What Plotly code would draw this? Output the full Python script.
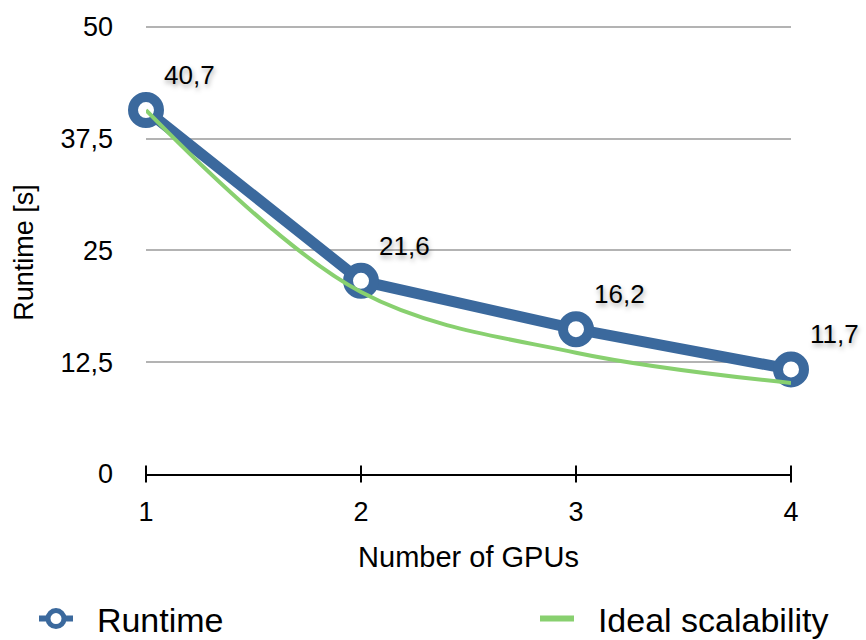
import plotly.graph_objects as go

# Benchmark data
gpus = [1, 2, 3, 4]
runtime = [40.7, 21.6, 16.2, 11.7]
ideal = [40.7, 20.35, 13.57, 10.18]
y_ticks = [0, 12.5, 25, 37.5, 50]
y_tick_labels = ["0", "12,5", "25", "37,5", "50"]

BLUE = "#3B699D"
GREEN = "#88D06F"
FONT = "Liberation Sans, Arial, sans-serif"
NBSP = "\u00a0"

fig = go.Figure()

# Measured runtime
fig.add_trace(go.Scatter(
    x=gpus, y=runtime, mode="lines+markers", name="Runtime",
    line=dict(color=BLUE, width=11),
    marker=dict(size=26, color="white", line=dict(color=BLUE, width=10)),
    cliponaxis=False, showlegend=False,
))

# Ideal linear scaling
fig.add_trace(go.Scatter(
    x=gpus, y=ideal, mode="lines", name="Ideal scalability",
    line=dict(color=GREEN, width=4, shape="spline", smoothing=1.0),
    cliponaxis=False, showlegend=False,
))

# Tick marks crossing the category axis
fig.add_trace(go.Scatter(
    x=gpus, y=[0] * len(gpus), mode="markers",
    marker=dict(symbol="line-ns-open", size=12, color="black", line=dict(color="black", width=2)),
    cliponaxis=False, showlegend=False, hoverinfo="skip",
))

# Legend entries
fig.add_trace(go.Scatter(
    x=[None], y=[None], mode="lines+markers", name=NBSP * 2 + "Runtime", legend="legend",
    line=dict(color=BLUE, width=6),
    marker=dict(size=16, color="white", line=dict(color=BLUE, width=5)),
))
fig.add_trace(go.Scatter(
    x=[None], y=[None], mode="lines", name=NBSP * 2 + "Ideal scalability", legend="legend2",
    line=dict(color=GREEN, width=6),
))

# Value labels
for x, v in zip(gpus, runtime):
    fig.add_annotation(
        x=x, y=v, text=f"{v:.1f}".replace(".", ","), showarrow=False,
        xshift=43, yshift=35,
        font=dict(family=FONT, size=26, color="black", shadow="1px 3px 5px rgba(0,0,0,0.35)"),
    )

# Y-axis title
fig.add_annotation(
    text="Runtime [s]", xref="paper", yref="paper", x=0, y=0.485,
    xanchor="center", yanchor="middle", xshift=-122, textangle=-90,
    showarrow=False, font=dict(family=FONT, size=27, color="black"),
)

legend_common = dict(
    orientation="h", xref="container", yref="container",
    xanchor="left", yanchor="middle", font=dict(size=34),
    itemsizing="trace", itemwidth=34, bgcolor="rgba(0,0,0,0)",
)

fig.update_layout(
    width=866, height=640,
    margin=dict(l=146, r=75, t=14, b=166),
    plot_bgcolor="white", paper_bgcolor="white",
    font=dict(family=FONT, size=27, color="black"),
    xaxis=dict(
        range=[1, 4], tickvals=gpus, ticktext=[str(g) for g in gpus],
        showgrid=False, zeroline=False, showline=True, linecolor="black", linewidth=2,
        ticks="", ticklabelstandoff=13,
        title=dict(text="Number of GPUs", font=dict(size=29), standoff=20),
    ),
    yaxis=dict(
        range=[0, 51], tickvals=y_ticks, ticktext=y_tick_labels,
        showgrid=True, gridcolor="#B3B3B3", gridwidth=2,
        zeroline=False, showline=False, ticks="", ticklabelstandoff=32,
    ),
    legend=dict(legend_common, x=34 / 866, y=(640 - 619) / 640),
    legend2=dict(legend_common, x=535 / 866, y=(640 - 619) / 640),
)

fig.write_html("out.html")
